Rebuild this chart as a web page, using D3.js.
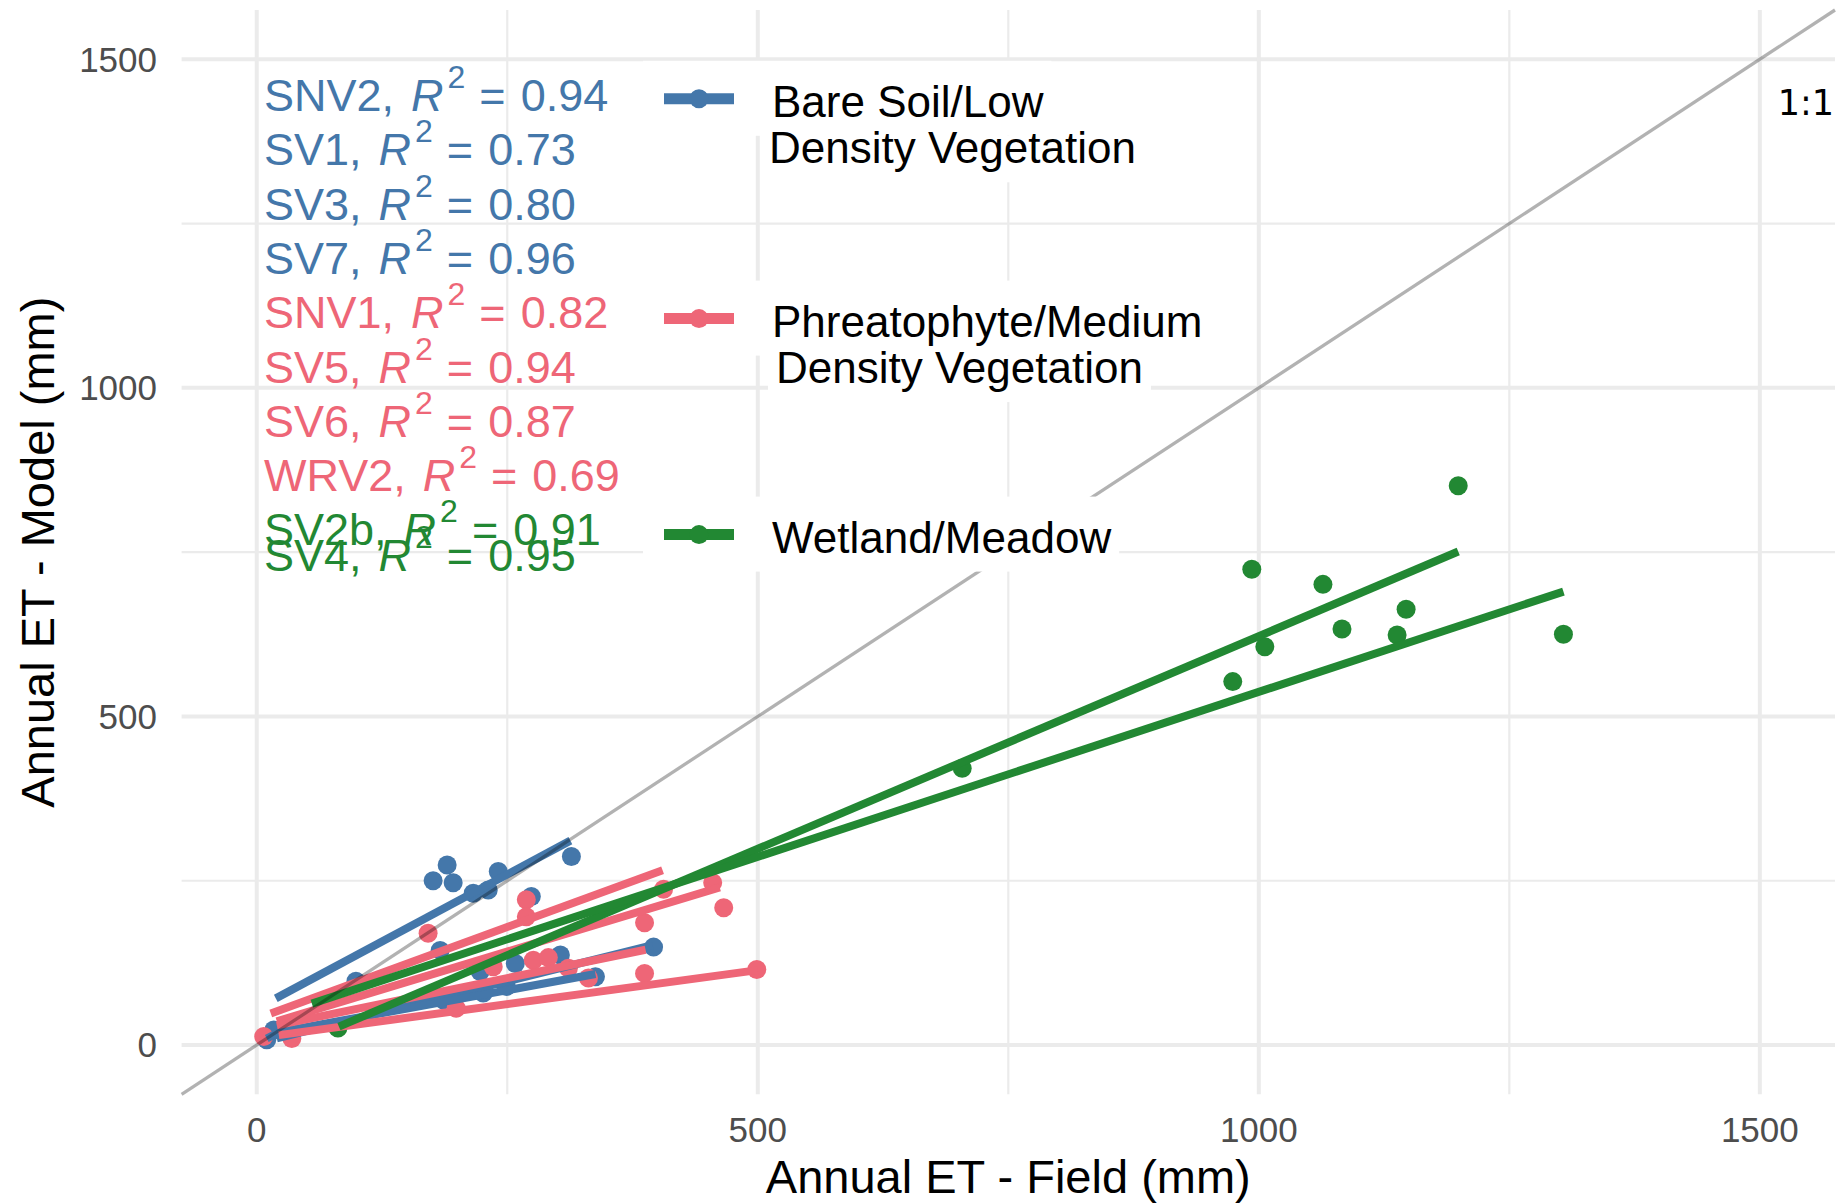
<!DOCTYPE html>
<html>
<head>
<meta charset="utf-8">
<script src="https://cdn.jsdelivr.net/npm/d3@7"></script>
<style>
  body { margin: 0; background: #fff; }
  text { font-family: "Liberation Sans", Arial, sans-serif; white-space: pre; }
</style>
</head>
<body>
<svg width="1847" height="1203"></svg>
<script>
// Data (mm)
var groups = ['Bare Soil/Low\nDensity Vegetation', 'Phreatophyte/Medium\nDensity Vegetation', 'Wetland/Meadow'];
var groupColors = ['#4477AA', '#EE6677', '#228833'];

var bluePoints = [[10,8],[17,23],[99,97],[176,250],[190,274],[196,247],[216,231],[231,236],[241,264],
  [314,287],[274,226],[183,144],[223,112],[186,69],[226,79],[249,89],[258,124],[303,137],[338,104],[396,149]];
var pinkPoints = [[7,13],[35,10],[171,170],[199,56],[236,119],[269,221],[269,195],[276,129],[291,133],
  [311,117],[331,102],[387,109],[387,186],[406,237],[455,247],[466,209],[499,115]];
var greenPoints = [[81,26],[704,421],[974,553],[993,724],[1006,606],[1064,701],[1083,633],[1138,624],
  [1147,663],[1199,851],[1304,625]];

// fitted lines, one per site: group index and end points
var fitGroup = [0, 0, 0, 0, 1, 1, 1, 1, 2, 2];
var fitX0 = [19, 20, 23, 10, 14, 20, 20, 22, 82, 55];
var fitY0 = [71, 10, 20, 10, 48, 36, 30, 15, 28, 63];
var fitX1 = [313, 395, 338, 30, 405, 462, 388, 500, 1199, 1304];
var fitY1 = [311, 152, 108, 26, 266, 240, 145, 114, 751, 690];

// R2 labels
var siteNames = ['SNV2', 'SV1', 'SV3', 'SV7', 'SNV1', 'SV5', 'SV6', 'WRV2', 'SV2b', 'SV4'];
var siteGroup = [0, 0, 0, 0, 1, 1, 1, 1, 2, 2];
var siteR2 = ['0.94', '0.73', '0.80', '0.96', '0.82', '0.94', '0.87', '0.69', '0.91', '0.95'];
var labelRow = [0, 1, 2, 3, 4, 5, 6, 7, 8, 8.48];

var majorTicks = [0, 500, 1000, 1500];
var minorTicks = [250, 750, 1250];

var svg = d3.select('svg');
var x = d3.scaleLinear().domain([-75, 1575]).range([181.6, 1835]);
var y = d3.scaleLinear().domain([-75, 1575]).range([1094.3, 10]);

// grid
function grid(ticks, w) {
  svg.append('g').selectAll('line').data(ticks).enter().append('line')
    .attr('x1', x(-75)).attr('x2', x(1575)).attr('y1', d => y(d)).attr('y2', d => y(d))
    .attr('stroke', '#EBEBEB').attr('stroke-width', w);
  svg.append('g').selectAll('line').data(ticks).enter().append('line')
    .attr('y1', y(-75)).attr('y2', y(1575)).attr('x1', d => x(d)).attr('x2', d => x(d))
    .attr('stroke', '#EBEBEB').attr('stroke-width', w);
}
grid(minorTicks, 2.2);
grid(majorTicks, 4);

// points
var allPoints = [bluePoints, pinkPoints, greenPoints];
allPoints.forEach(function(pts, gi) {
  svg.append('g').selectAll('circle').data(pts).enter().append('circle')
    .attr('cx', d => x(d[0])).attr('cy', d => y(d[1])).attr('r', 9.5)
    .attr('fill', groupColors[gi]);
});

// fit lines, drawn group by group
var fits = fitGroup.map((g, i) => ({g: g, x0: fitX0[i], y0: fitY0[i], x1: fitX1[i], y1: fitY1[i]}));
fits.sort((a, b) => a.g - b.g);
svg.append('g').selectAll('line').data(fits).enter().append('line')
  .attr('x1', d => x(d.x0)).attr('y1', d => y(d.y0))
  .attr('x2', d => x(d.x1)).attr('y2', d => y(d.y1))
  .attr('stroke', d => groupColors[d.g]).attr('stroke-width', 8);

// 1:1 line
svg.append('line')
  .attr('x1', x(-75)).attr('y1', y(-75)).attr('x2', x(1575)).attr('y2', y(1575))
  .attr('stroke', '#000').attr('stroke-opacity', 0.3).attr('stroke-width', 3.3);

// R2 labels (plotmath-like spacing)
siteNames.forEach(function(name, i) {
  var t = svg.append('text').attr('x', 264).attr('y', 111 + labelRow[i] * 54.3)
    .attr('fill', groupColors[siteGroup[i]]).style('font-size', '45px');
  t.append('tspan').text(name + ',');
  t.append('tspan').attr('dx', 17).style('font-style', 'italic').text('R');
  t.append('tspan').attr('dx', 4).attr('dy', -23).style('font-size', '32px').text('2');
  t.append('tspan').attr('dx', 14).attr('dy', 23).text('=');
  t.append('tspan').attr('dx', 15).text(siteR2[i]);
});

// legend
var keyY = [98.8, 318.6, 534.6];
var line2X = [769, 776, 772];
groups.forEach(function(label, i) {
  var lines = label.split('\n');
  var lg = svg.append('g');
  var bg = lg.append('g');
  var base1 = keyY[i] + 18;
  var texts = lines.map(function(s, j) {
    return lg.append('text').attr('x', j == 0 ? 772 : line2X[i]).attr('y', base1 + j * 46.5)
      .style('font-size', '44px').attr('fill', '#000').text(s);
  });
  var w1 = texts[0].node().getComputedTextLength();
  var top = keyY[i] - 38;
  if (lines.length == 1) {
    bg.append('rect').attr('x', 643).attr('y', top).attr('width', 772 + w1 + 8 - 643)
      .attr('height', base1 + 19 - top).attr('fill', '#fff');
  } else {
    var split = base1 + 19;
    var w2 = texts[1].node().getComputedTextLength();
    bg.append('rect').attr('x', 643).attr('y', top).attr('width', 772 + w1 + 8 - 643)
      .attr('height', split - top).attr('fill', '#fff');
    bg.append('rect').attr('x', line2X[i] - 8).attr('y', split).attr('width', w2 + 16)
      .attr('height', base1 + 46.5 + 19 - split).attr('fill', '#fff');
  }
  lg.append('line').attr('x1', 664).attr('x2', 734).attr('y1', keyY[i]).attr('y2', keyY[i])
    .attr('stroke', groupColors[i]).attr('stroke-width', 11);
  lg.append('circle').attr('cx', 699).attr('cy', keyY[i]).attr('r', 9.5).attr('fill', groupColors[i]);
});

// 1:1 label
svg.append('text').attr('x', 1834).attr('y', 115).attr('text-anchor', 'end')
  .style('font-family', '"DejaVu Sans", sans-serif').style('font-size', '35px').attr('fill', '#000')
  .text('1:1');

// axes tick labels
svg.append('g').selectAll('text').data(majorTicks).enter().append('text')
  .attr('x', 157).attr('y', d => y(d) + 12.4).attr('text-anchor', 'end')
  .style('font-size', '35px').attr('fill', '#4D4D4D').text(d => d);
svg.append('g').selectAll('text').data(majorTicks).enter().append('text')
  .attr('x', d => x(d)).attr('y', 1142).attr('text-anchor', 'middle')
  .style('font-size', '35px').attr('fill', '#4D4D4D').text(d => d);

// axis titles
svg.append('text').attr('x', (x(-75) + x(1575)) / 2).attr('y', 1193).attr('text-anchor', 'middle')
  .style('font-size', '47px').attr('fill', '#000').text('Annual ET - Field (mm)');
svg.append('text').attr('transform', 'translate(54,' + (y(-75) + y(1575)) / 2 + ') rotate(-90)')
  .attr('text-anchor', 'middle').style('font-size', '47px').attr('fill', '#000')
  .text('Annual ET - Model (mm)');
</script>
</body>
</html>
